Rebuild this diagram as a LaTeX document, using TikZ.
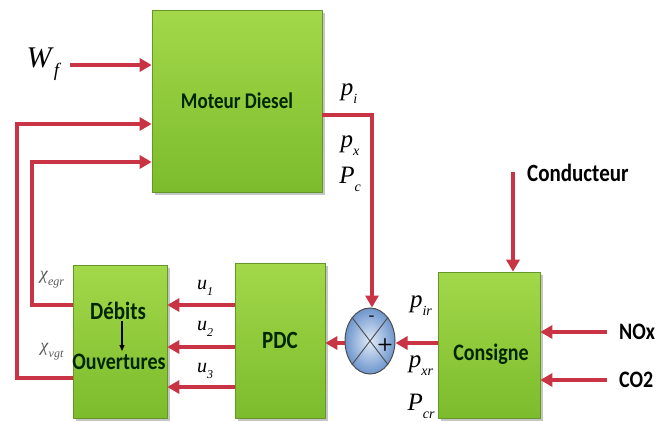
\documentclass[tikz,border=0pt]{standalone}
\usepackage{fontspec}
\setmainfont{Liberation Serif}
\newfontfamily\carl{Carlito}
\usetikzlibrary{arrows.meta,shapes.geometric,shadows,calc}
\definecolor{arrred}{RGB}{200,52,68}
\definecolor{boxtop}{RGB}{162,216,74}
\definecolor{boxbot}{RGB}{124,188,44}
\definecolor{boxedge}{RGB}{100,150,40}
\definecolor{cmpin}{RGB}{225,235,248}
\definecolor{cmpout}{RGB}{110,150,205}
\newcommand\lbl[4]{\fontsize{#1}{#1}\selectfont\textit{#3}\raisebox{-0.32em}{\fontsize{#2}{#2}\selectfont\textit{#4}}}
\newcommand\tall[1]{\scalebox{1}[1.18]{#1}}
\tikzset{
  blk/.style={draw=boxedge, line width=0.6pt, top color=boxtop, bottom color=boxbot,
    drop shadow={shadow xshift=2.5pt, shadow yshift=-2.5pt, fill=black!45, opacity=.5},
    font=\carl\bfseries, inner sep=0pt, text=black!85!green},
  sig/.style={draw=arrred, line width=4pt, -{Triangle[length=12pt,width=13pt]}},
  lab/.style={inner sep=0pt, anchor=center},
  sf/.style={font=\carl\bfseries\fontsize{#1}{#1}\selectfont},
}
\begin{document}
\begin{tikzpicture}[x=1pt,y=-1pt]
\useasboundingbox (0,0) rectangle (659,421);
% blocks
\node[blk, minimum width=170pt, minimum height=182pt, sf=19] (md) at (237,101) {\tall{Moteur Diesel}};
\node[blk, minimum width=94pt, minimum height=153pt] (do) at (120,341.5) {};
\node[blk, minimum width=90pt, minimum height=155pt, sf=21] (pdc) at (280,340.5) {\tall{PDC}};
\node[blk, minimum width=102pt, minimum height=146pt] (cs) at (489,345) {};
\node[lab, sf=20, text=black!85!green] (cstxt) at (491,354) {\tall{Consigne}};
% texts inside Débits/Ouvertures
\node[lab, sf=21, text=black!85!green] (deb) at (118,311) {\tall{Débits}};
\node[lab, sf=20, text=black!85!green] (ouv) at (119,362) {\tall{Ouvertures}};
\draw[line width=1.2pt, -{Triangle[length=6pt,width=5pt]}] (122,321) -- (122,351);
% comparator
\node[ellipse, draw=black!70, line width=1pt, minimum width=50pt, minimum height=66pt, inner sep=0pt,
  inner color=cmpin, outer color=cmpout] (cmp) at (370,341) {};
\draw[black!70, line width=0.9pt] (cmp.north west) -- (cmp.south east) (cmp.north east) -- (cmp.south west);
\node[lab, font=\sffamily\bfseries\fontsize{17}{17}\selectfont] (minus) at (372,318) {-};
\node[lab, font=\sffamily\bfseries\fontsize{18}{18}\selectfont] (plus) at (385,345) {+};
% external texts
\node[lab] (wf) at (44,64) {\lbl{30}{19}{W}{f}};
\coordinate (wfs) at (70,65);
\node[lab, sf=21, anchor=west] (cond) at (527,173) {\tall{Conducteur}};
\coordinate (conds) at (513,172);
\node[lab, sf=20, anchor=west] (nox) at (619,332) {\tall{NOx}};
\node[lab, sf=20, anchor=west] (co2) at (619,380) {\tall{CO2}};
\coordinate (noxs) at (607,332);
\coordinate (co2s) at (607,380);
% labels
\node[lab] (pi) at (349,94) {\lbl{25}{14}{p}{i}};
\node[lab] (px) at (350,146) {\lbl{25}{14}{p}{x}};
\node[lab] (pc) at (350,179) {\lbl{25}{14}{P}{c}};
\node[lab] (pir) at (421,306) {\lbl{25}{14}{p}{ir}};
\node[lab] (pxr) at (421,366) {\lbl{25}{14}{p}{xr}};
\node[lab] (pcr) at (421,406) {\lbl{25}{14}{P}{cr}};
\node[lab, text=black!65] (xegr) at (52,280) {\lbl{18}{12}{χ}{egr}};
\node[lab, text=black!65] (xvgt) at (52,352) {\lbl{18}{12}{χ}{vgt}};
\node[lab] (u1) at (205,288) {\lbl{20}{12}{u}{1}};
\node[lab] (u2) at (205,329) {\lbl{20}{12}{u}{2}};
\node[lab] (u3) at (205,371) {\lbl{20}{12}{u}{3}};
% corner coordinates
\coordinate (mdo) at (372,115);
\coordinate (fo1) at (17,378);
\coordinate (fo2) at (17,124);
\coordinate (fi1) at (32,305);
\coordinate (fi2) at (32,162);
% connectors
\draw[sig] (wfs) -- (wfs -| md.west);
\draw[sig] (do.west |- fo1) -- (fo1) -- (fo2) -- (fo2 -| md.west);
\draw[sig] (do.west |- fi1) -- (fi1) -- (fi2) -- (fi2 -| md.west);
\draw[sig] (md.east |- mdo) -- (mdo) -- (cmp.north -| mdo);
\draw[sig] (conds) -- (conds |- cs.north);
\draw[sig] (noxs) -- (noxs -| cs.east);
\draw[sig] (co2s) -- (co2s -| cs.east);
\draw[sig] (cs.west |- 0,343) -- (cmp.east |- 0,343);
\draw[sig] (cmp.west |- 0,343) -- (pdc.east |- 0,343);
\draw[sig] (pdc.west |- 0,305) -- (do.east |- 0,305);
\draw[sig] (pdc.west |- 0,347) -- (do.east |- 0,347);
\draw[sig] (pdc.west |- 0,387) -- (do.east |- 0,387);
\end{tikzpicture}
\end{document}
